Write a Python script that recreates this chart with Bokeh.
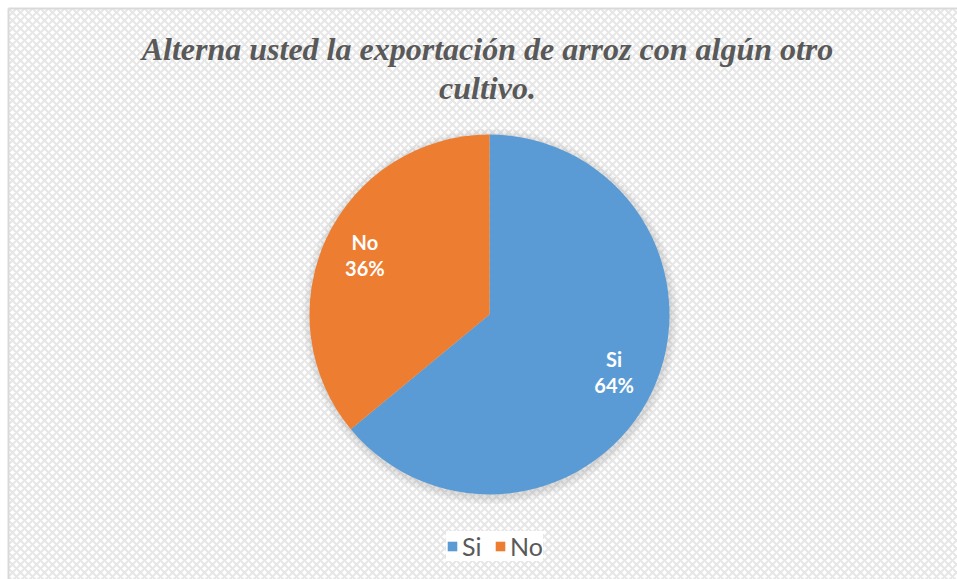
import numpy as np
from bokeh.plotting import figure
from bokeh.models import ColumnDataSource, Legend, LegendItem, Label
from bokeh.core.properties import value
from bokeh.embed import file_html
from bokeh.resources import INLINE

# ---- data ----
categories = ["Si", "No"]
percents = [64, 36]
colors = ["#5B9BD5", "#ED7D31"]
title_lines = ["Alterna usted la exportación de arroz con algún otro", "cultivo."]

W, H = 957, 579
p = figure(width=W, height=H, output_backend="svg", toolbar_location=None,
           x_range=(0, W), y_range=(0, H), min_border=0,
           background_fill_color="white", border_fill_color="white")
p.axis.visible = False
p.grid.visible = False
p.outline_line_color = None

# textured chart area with left/top border
L0, T0 = 8, H - 8
p.quad(left=[L0], right=[W], bottom=[0], top=[T0], fill_color="white", line_color=None,
       hatch_pattern="diagonal_cross", hatch_color="#e6e6e6", hatch_scale=8, hatch_weight=2)
p.segment(x0=[L0, L0], y0=[0, T0], x1=[L0, W], y1=[T0, T0], line_color="#d9d9d9", line_width=2)

cx, cy, R = 489, H - 314, 180

# soft shadow
for i in range(8, 0, -1):
    p.circle(x=[cx + 1], y=[cy - 2], radius=R + i, fill_color="#9a9a9a",
             fill_alpha=0.035, line_color=None)

frac = np.array(percents) / sum(percents)
cum = np.concatenate([[0], np.cumsum(frac)])
start = np.pi / 2 - 2 * np.pi * cum[:-1]
end = np.pi / 2 - 2 * np.pi * cum[1:]
src = ColumnDataSource(dict(cat=categories, pct=percents, start=start, end=end, color=colors))
wr = p.wedge(x=cx, y=cy, radius=R, start_angle="start", end_angle="end", direction="clock",
             fill_color="color", line_color=None, source=src)

# data labels
mid = (start + end) / 2
lr = 0.765 * R
for c, pc, a in zip(categories, percents, mid):
    lx = cx + lr * np.cos(a)
    ly = cy + lr * np.sin(a)
    p.add_layout(Label(x=lx, y=ly + 14, text=c, text_align="center", text_baseline="middle",
                       text_font="Lato", text_font_style="bold", text_font_size="20px",
                       text_color="white"))
    p.add_layout(Label(x=lx, y=ly - 12, text=f"{pc}%", text_align="center", text_baseline="middle",
                       text_font="Lato", text_font_style="bold", text_font_size="20px",
                       text_color="white"))

# title
tsrc = ColumnDataSource(dict(x=[487, 487], y=[H - 48, H - 87], t=title_lines))
p.text(x="x", y="y", text="t", source=tsrc, text_align="center", text_baseline="alphabetic",
       text_font=value("Liberation Serif"), text_font_style="bold italic",
       text_font_size="32px", text_color="#595959")

legend = Legend(items=[LegendItem(label=c, renderers=[wr], index=i) for i, c in enumerate(categories)],
                orientation="horizontal", location=(446, 18),
                background_fill_color="white", background_fill_alpha=1,
                border_line_color=None, label_text_font="Lato", label_text_font_size="25px",
                label_text_color="#595959", glyph_width=12, glyph_height=12,
                spacing=12, padding=12, label_standoff=4, margin=0)
p.add_layout(legend, "center")

open("out.html", "w").write(file_html(p, INLINE))
